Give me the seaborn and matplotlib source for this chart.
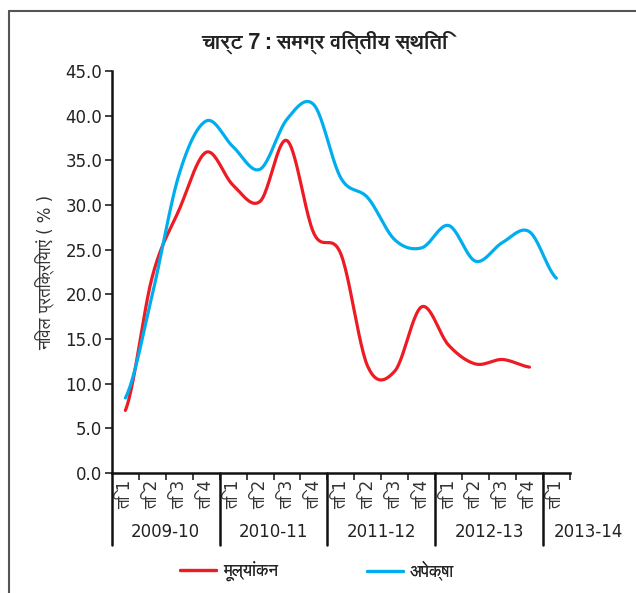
import numpy as np
import pandas as pd
import matplotlib
matplotlib.use("Agg")
import matplotlib.pyplot as plt
import matplotlib.transforms as mtransforms
from matplotlib import font_manager, ft2font
from matplotlib.lines import Line2D
import seaborn as sns

# DATA
quarters = ["ति 1", "ति 2", "ति 3", "ति 4"] * 4 + ["ति 1"]
years = ["2009-10", "2010-11", "2011-12", "2012-13", "2013-14"]
valuation = [7.0, 22.0, 29.5, 35.9, 32.2, 30.4, 37.2, 26.8,
             24.5, 11.9, 11.4, 18.6, 14.3, 12.2, 12.7, 11.85, np.nan]
expectation = [8.4, 20.0, 33.5, 39.4, 36.5, 34.0, 39.6, 41.2,
               33.0, 30.8, 26.1, 25.2, 27.7, 23.7, 25.8, 27.0, 21.8]
series_names = ["मूल्यांकन", "अपेक्षा"]
colors = ["#ED1C24", "#00AEEF"]

# FONT - find something with Devanagari glyphs, prefer a proportional sans
cands = []
for f in font_manager.fontManager.ttflist:
    try:
        if 0x0915 in ft2font.FT2Font(f.fname).get_charmap():
            cands.append(f)
    except Exception:
        pass


def rank(f):
    n = (f.name + " " + f.fname).lower()
    score = 0
    if "mono" in n or "code" in n:
        score += 10
    if "serif" in n and "sans" not in n:
        score += 3
    if "sans" in n or "devanagari" in n or "lohit" in n:
        score -= 2
    return score


cands.sort(key=rank)
deva = cands[0].name if cands else None

sns.set_style("ticks")
families = ["DejaVu Sans"] + ([deva] if deva else [])
plt.rcParams["font.family"] = families
deva_first = ([deva] if deva else []) + ["DejaVu Sans"]


def smooth(y, n=24):
    # catmull-rom through the points, like the smoothed line option in excel
    y = np.asarray(y, dtype=float)
    xs, ys = [], []
    for i in range(len(y) - 1):
        p0 = y[i - 1] if i > 0 else y[i]
        p1, p2 = y[i], y[i + 1]
        p3 = y[i + 2] if i + 2 < len(y) else y[i + 1]
        t = np.linspace(0, 1, n, endpoint=False)
        seg = 0.5 * (2 * p1 + (-p0 + p2) * t + (2 * p0 - 5 * p1 + 4 * p2 - p3) * t ** 2
                     + (-p0 + 3 * p1 - 3 * p2 + p3) * t ** 3)
        xs.extend(i + t)
        ys.extend(seg)
    xs.append(len(y) - 1)
    ys.append(y[-1])
    return np.array(xs), np.array(ys)


frames = []
for name, vals in zip(series_names, [valuation, expectation]):
    v = np.array(vals, dtype=float)
    v = v[~np.isnan(v)]
    sx, sy = smooth(v)
    frames.append(pd.DataFrame({"x": sx, "y": sy, "series": name}))
df = pd.concat(frames, ignore_index=True)

fig = plt.figure(figsize=(6.36, 5.93), dpi=100)
ax = fig.add_axes([0.176, 0.2024, 0.72, 0.678])

sns.lineplot(data=df, x="x", y="y", hue="series", palette=colors,
             linewidth=2.3, sort=False, estimator=None, ax=ax, legend=False)

n = len(quarters)
ax.set_xlim(-0.5, n - 0.5)
ax.set_ylim(0, 45)
ax.set_yticks(np.arange(0, 46, 5))
ax.set_yticklabels([f"{v:.1f}" for v in np.arange(0, 46, 5)], fontsize=12, color="#222222")
ax.set_xticks(range(n))
ax.set_xticklabels(quarters, rotation=90, fontsize=12, color="#333333")
ax.set_xticks(np.arange(0.5, n, 1), minor=True)
ax.tick_params(axis="x", which="major", length=0, pad=5)
ax.tick_params(axis="x", which="minor", length=5, width=1.2, color="#222222")
ax.tick_params(axis="y", length=5, width=1.2, color="#222222", pad=2)
for s in ["top", "right"]:
    ax.spines[s].set_visible(False)
for s in ["left", "bottom"]:
    ax.spines[s].set_linewidth(1.8)
    ax.spines[s].set_color("#111111")
ax.set_xlabel("")
ax.set_ylabel("निवल प्रतिक्रियाएं ( % )", fontsize=12, color="#333333", labelpad=8)

# year group separators and labels
trans = mtransforms.blended_transform_factory(ax.transData, ax.transAxes)
for b in [-0.5, 3.5, 7.5, 11.5, 15.5]:
    ax.plot([b, b], [0, -0.179], transform=trans, color="#111111",
            linewidth=1.8, clip_on=False)
for k, yr in enumerate(years):
    cx = 4 * k + 1.5 if k < 4 else 17.2
    ax.text(cx, -0.147, yr, transform=trans, ha="center", va="center",
            fontsize=12, color="#222222")

fig.suptitle("चार्ट 7 : समग्र वित्तीय स्थिति", x=0.51, y=0.948,
             fontsize=15, fontweight="bold", color="#222222", family=deva_first)

# legend entries placed one by one
for c, name, lx in zip(colors, series_names, [173 / 636, 360 / 636]):
    lg = fig.legend([Line2D([], [], color=c, linewidth=2.3)], [name],
                    loc="center left", bbox_to_anchor=(lx, 0.038),
                    frameon=False, fontsize=12, handlelength=2.2,
                    handletextpad=0.4, borderaxespad=0)
    fig.add_artist(lg)

# outer frame (left and top edges visible)
fig.add_artist(Line2D([9 / 636, 9 / 636], [0, 1 - 11 / 593], transform=fig.transFigure,
                      color="#555555", linewidth=1.5))
fig.add_artist(Line2D([9 / 636, 1], [1 - 11 / 593, 1 - 11 / 593], transform=fig.transFigure,
                      color="#555555", linewidth=1.5))

fig.savefig("out.png", dpi=100)
